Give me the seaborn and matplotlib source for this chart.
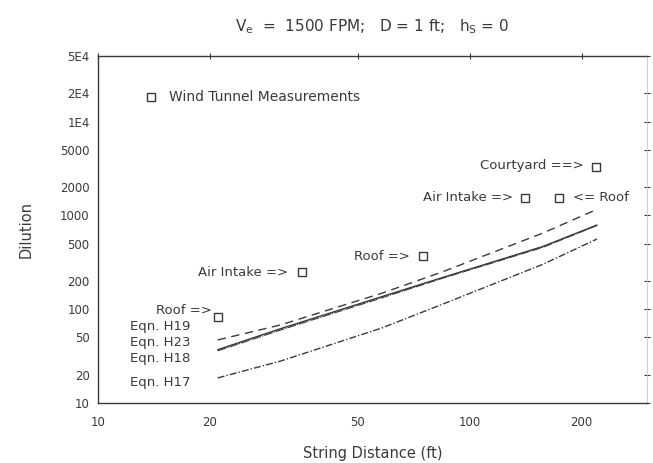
import matplotlib
matplotlib.use("Agg")
import matplotlib.pyplot as plt
import seaborn as sns
import pandas as pd

# string distance (ft) where the equation curves were evaluated
dist = [21, 31, 58, 84, 157, 220]
h19 = [47, 68, 148, 248, 646, 1160]
h23 = [37, 62, 136, 216, 465, 790]
h18 = [36, 60, 132, 212, 455, 780]
h17 = [18.5, 28, 63, 112, 300, 560]

# wind tunnel measurements
meas_x = [21, 35.4, 75, 141, 174, 219]
meas_y = [82, 248, 367, 1550, 1550, 3320]
meas_names = ["Roof =>", "Air Intake =>", "Roof =>", "Air Intake =>", "<= Roof", "Courtyard ==>"]

ytick_vals = [10, 20, 50, 100, 200, 500, 1000, 2000, 5000, 1e4, 2e4, 5e4]
ytick_labels = ["10", "20", "50", "100", "200", "500", "1000", "2000", "5000", "1E4", "2E4", "5E4"]
xtick_vals = [10, 20, 50, 100, 200]
xtick_labels = ["10", "20", "50", "100", "200"]

sns.set_style("white")
plt.rcParams["font.family"] = ["DejaVu Sans"]
ink = "#3a3a3a"

fig = plt.figure(figsize=(6.53, 4.63), dpi=100)
ax = fig.add_axes([0.150, 0.1296, 0.841, 0.7494])

curves = pd.DataFrame({"dist": dist, "H19": h19, "H23": h23, "H18": h18, "H17": h17})
sns.lineplot(data=curves, x="dist", y="H19", ax=ax, color=ink, lw=1.0, linestyle=(0, (6, 4)))
sns.lineplot(data=curves, x="dist", y="H23", ax=ax, color=ink, lw=1.0)
sns.lineplot(data=curves, x="dist", y="H18", ax=ax, color=ink, lw=0.8, linestyle=(0, (8, 1, 1, 1)))
sns.lineplot(data=curves, x="dist", y="H17", ax=ax, color=ink, lw=1.0, linestyle=(0, (5, 1.5, 1, 1.5)))

meas = pd.DataFrame({"x": meas_x, "y": meas_y})
sns.scatterplot(data=meas, x="x", y="y", ax=ax, marker="s", s=38, facecolor="white",
                edgecolor=ink, linewidth=1.0, label="Wind Tunnel Measurements", zorder=5)

ax.set_xscale("log")
ax.set_yscale("log")
ax.set_xlim(10, 300)
ax.set_ylim(10, 5e4)
ax.set_xticks(xtick_vals)
ax.set_xticklabels(xtick_labels)
ax.set_yticks(ytick_vals)
ax.set_yticklabels(ytick_labels)
ax.minorticks_off()
ax.tick_params(axis="both", direction="inout", length=5, width=0.8, color=ink,
               labelcolor=ink, labelsize=8.5, top=True, right=True)
ax.tick_params(axis="x", pad=7)
for side in ["left", "bottom", "top"]:
    ax.spines[side].set_color(ink)
    ax.spines[side].set_linewidth(1.0)
ax.spines["right"].set_color("#c8c8c8")
ax.spines["right"].set_linewidth(0.6)

ax.set_xlabel("String Distance (ft)", fontsize=10.5, color=ink, labelpad=12)
ax.set_ylabel("Dilution", fontsize=10.5, color=ink, labelpad=19)
ax.set_title(r"V$_{\rm e}$  =  1500 FPM;   D = 1 ft;   h$_{\rm S}$ = 0",
             fontsize=11, color=ink, pad=18)

# annotation text next to the measurement squares (positions in data units)
note_pos = [(20.2, 97, "right"), (32.5, 248, "right"), (69, 367, "right"),
            (131, 1550, "right"), (190, 1550, "left"), (203, 3400, "right")]
for (tx, ty, ha), name in zip(note_pos, meas_names):
    ax.text(tx, ty, name, ha=ha, va="center", fontsize=9.5, color=ink)

eqn_labels = ["Eqn. H19", "Eqn. H23", "Eqn. H18", "Eqn. H17"]
eqn_y = [66, 44, 30, 16.5]
for lab, ey in zip(eqn_labels, eqn_y):
    ax.text(12.2, ey, lab, ha="left", va="center", fontsize=9.5, color=ink)

leg = ax.legend(loc="center left", bbox_to_anchor=(0.048, 0.882), frameon=False,
                fontsize=10, handletextpad=0.3, markerscale=0.9)
for t in leg.get_texts():
    t.set_color(ink)

fig.savefig("out.png", dpi=100)
